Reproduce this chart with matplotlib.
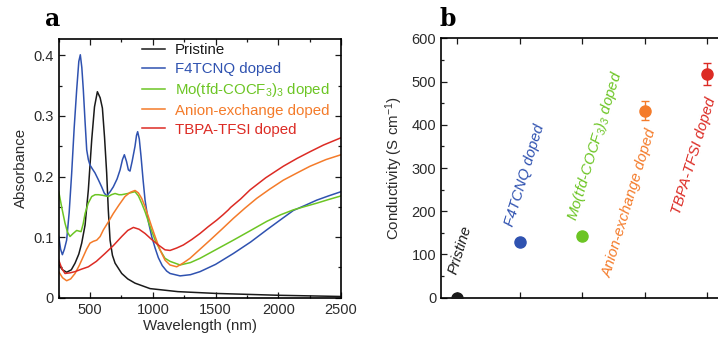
import matplotlib
matplotlib.use("Agg")
import matplotlib.pyplot as plt
from matplotlib.ticker import MultipleLocator

plt.rcParams["font.family"] = ["Liberation Sans", "DejaVu Sans"]
plt.rcParams["mathtext.default"] = "regular"

# --- panel a: absorbance spectra ---
wl_pristine = [250, 280, 313, 350, 380, 410, 433, 460, 486, 513, 535, 558, 580, 598, 615, 632, 645, 659,
               678, 699, 752, 800, 858, 978, 1200, 1509, 2000, 2500]
abs_pristine = [0.055, 0.046, 0.042, 0.046, 0.057, 0.072, 0.090, 0.120, 0.178, 0.261, 0.315, 0.340, 0.330,
                0.313, 0.265, 0.206, 0.145, 0.095, 0.070, 0.057, 0.040, 0.031, 0.024, 0.015, 0.010, 0.007,
                0.004, 0.002]

wl_f4tcnq = [250, 265, 279, 295, 313, 333, 353, 373, 393, 410, 422, 434, 446, 460, 473, 486, 499, 520, 539,
             565, 592, 612, 632, 660, 685, 715, 739, 758, 773, 790, 805, 818, 835, 858, 870, 879, 892, 906,
             922, 938, 965, 991, 1018, 1044, 1075, 1110, 1137, 1217, 1300, 1376, 1500, 1642, 1780, 1908,
             2020, 2120, 2220, 2306, 2400, 2500]
abs_f4tcnq = [0.101, 0.080, 0.071, 0.080, 0.095, 0.140, 0.205, 0.280, 0.343, 0.390, 0.401, 0.380, 0.343,
              0.290, 0.244, 0.228, 0.219, 0.212, 0.206, 0.195, 0.183, 0.173, 0.168, 0.175, 0.183, 0.196,
              0.211, 0.228, 0.236, 0.225, 0.211, 0.209, 0.225, 0.250, 0.268, 0.274, 0.262, 0.233, 0.195,
              0.161, 0.125, 0.101, 0.082, 0.066, 0.053, 0.044, 0.040, 0.036, 0.038, 0.043, 0.055, 0.073,
              0.092, 0.112, 0.129, 0.144, 0.153, 0.161, 0.168, 0.175]

wl_mo = [250, 275, 300, 320, 340, 365, 393, 410, 428, 445, 460, 485, 513, 540, 566, 600, 646, 670, 699,
         730, 752, 800, 858, 885, 911, 938, 964, 991, 1018, 1057, 1097, 1137, 1217, 1300, 1376, 1500, 1642,
         1780, 1908, 2020, 2120, 2220, 2306, 2400, 2500]
abs_mo = [0.175, 0.148, 0.123, 0.108, 0.101, 0.106, 0.111, 0.110, 0.109, 0.122, 0.139, 0.156, 0.167,
          0.170, 0.170, 0.169, 0.167, 0.170, 0.172, 0.170, 0.170, 0.172, 0.175, 0.168, 0.156, 0.142,
          0.126, 0.110, 0.095, 0.079, 0.065, 0.060, 0.054, 0.058, 0.065, 0.079, 0.095, 0.111, 0.126,
          0.137, 0.145, 0.151, 0.156, 0.162, 0.168]

wl_anion = [250, 280, 313, 345, 380, 413, 446, 472, 499, 525, 553, 580, 606, 645, 685, 730, 778, 820, 858,
            885, 911, 938, 964, 991, 1018, 1057, 1097, 1137, 1190, 1240, 1296, 1376, 1456, 1550, 1642,
            1735, 1828, 1930, 2040, 2150, 2253, 2380, 2500]
abs_anion = [0.043, 0.033, 0.028, 0.031, 0.040, 0.053, 0.068, 0.080, 0.090, 0.093, 0.095, 0.101, 0.112,
             0.125, 0.139, 0.153, 0.167, 0.174, 0.177, 0.173, 0.164, 0.150, 0.134, 0.117, 0.101, 0.079,
             0.062, 0.054, 0.051, 0.057, 0.065, 0.080, 0.095, 0.113, 0.131, 0.148, 0.164, 0.179, 0.194,
             0.206, 0.217, 0.228, 0.236]

wl_tbpa = [250, 275, 300, 340, 380, 430, 486, 550, 619, 685, 752, 800, 845, 890, 938, 991, 1044, 1097,
           1137, 1190, 1243, 1310, 1376, 1440, 1509, 1560, 1602, 1620, 1700, 1775, 1900, 2040, 2150, 2253,
           2360, 2465, 2500]
abs_tbpa = [0.062, 0.048, 0.040, 0.041, 0.043, 0.047, 0.051, 0.060, 0.073, 0.086, 0.101, 0.111, 0.116,
            0.113, 0.106, 0.096, 0.087, 0.079, 0.078, 0.082, 0.087, 0.096, 0.106, 0.117, 0.128, 0.137,
            0.145, 0.149, 0.163, 0.178, 0.198, 0.217, 0.230, 0.241, 0.252, 0.261, 0.264]

# --- panel b: conductivity ---
samples = ["Pristine", "F4TCNQ doped", "Mo(tfd-COCF$_3$)$_3$ doped", "Anion-exchange doped", "TBPA-TFSI doped"]
sample_pos = [1, 2, 3, 4, 5]
conductivity = [0, 128, 143, 433, 518]
cond_err = [0, 0, 0, 22, 26]

colors = ["#1a1a1a", "#2f52b0", "#6cc524", "#f47b2a", "#dc2b24"]
text_dark = "#2b2b2b"

fig = plt.figure(figsize=(7.18, 3.44), dpi=100)
ax_a = fig.add_axes([0.0818, 0.1346, 0.3932, 0.752])
ax_b = fig.add_axes([0.6143, 0.1346, 0.3934, 0.754])

series = [(wl_pristine, abs_pristine), (wl_f4tcnq, abs_f4tcnq), (wl_mo, abs_mo),
          (wl_anion, abs_anion), (wl_tbpa, abs_tbpa)]
for (wl, ab), lab, c in zip(series, samples, colors):
    ax_a.plot(wl, ab, color=c, lw=1.1, label=lab, solid_joinstyle="round")

ax_a.set_xlim(250, 2500)
ax_a.set_ylim(0, 0.427)
ax_a.xaxis.set_major_locator(MultipleLocator(500))
ax_a.xaxis.set_minor_locator(MultipleLocator(250))
ax_a.yaxis.set_minor_locator(MultipleLocator(0.05))
ax_a.set_yticks([0, 0.1, 0.2, 0.3, 0.4])
ax_a.set_yticklabels(["0", "0.1", "0.2", "0.3", "0.4"])
ax_a.set_xlabel("Wavelength (nm)", fontsize=10.8, color=text_dark, labelpad=2)
ax_a.set_ylabel("Absorbance", fontsize=10.8, color=text_dark, labelpad=4)

leg = ax_a.legend(loc="upper left", bbox_to_anchor=(0.295, 0.985), frameon=False, fontsize=10.8,
                  handlelength=1.5, handletextpad=0.7, labelspacing=0.33, borderpad=0, borderaxespad=0)
for txt, c in zip(leg.get_texts(), colors):
    txt.set_color(c)

for x, y, e, c in zip(sample_pos, conductivity, cond_err, colors):
    if e:
        ax_b.errorbar([x], [y], yerr=[e], fmt="none", ecolor=c, elinewidth=1.0, capsize=3, capthick=1.0)
    ax_b.plot([x], [y], "o", color=c, ms=8, zorder=3)

ax_b.set_xlim(0.74, 5.26)
ax_b.set_ylim(0, 600)
ax_b.set_xticks(sample_pos)
ax_b.set_xticklabels([])
ax_b.yaxis.set_major_locator(MultipleLocator(100))
ax_b.yaxis.set_minor_locator(MultipleLocator(50))
ax_b.set_ylabel("Conductivity (S cm$^{-1}$)", fontsize=10.8, color=text_dark, labelpad=5)

label_xy = [(0.99, 52), (1.89, 163), (2.90, 176), (3.46, 45), (4.56, 191)]
for (lx, ly), lab, c in zip(label_xy, samples, colors):
    ax_b.text(lx, ly, lab, color=c, fontsize=10.8, style="italic", rotation=73,
              rotation_mode="anchor", ha="left", va="baseline")

for ax in (ax_a, ax_b):
    ax.tick_params(which="both", direction="in", top=True, right=True, colors="#1a1a1a",
                   labelcolor=text_dark, labelsize=10.5, width=0.9)
    ax.tick_params(which="major", length=4)
    ax.tick_params(which="minor", length=2.5)
    for sp in ax.spines.values():
        sp.set_linewidth(1.2)

fig.text(0.062, 0.925, "a", fontsize=17, fontweight="bold", family="DejaVu Serif")
fig.text(0.612, 0.925, "b", fontsize=17, fontweight="bold", family="DejaVu Serif")

fig.savefig("out.png", dpi=100)
